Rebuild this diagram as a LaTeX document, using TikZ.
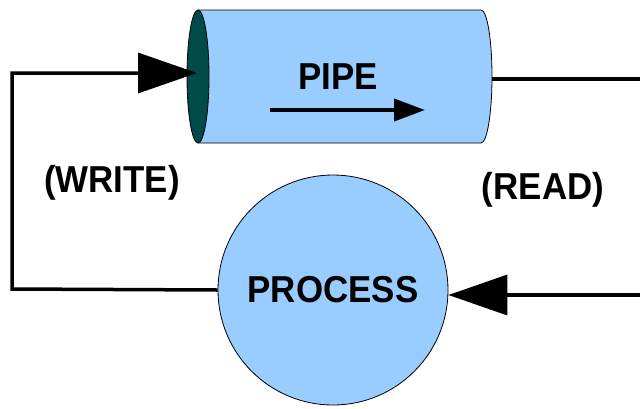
\documentclass[tikz,border=0pt]{standalone}
\usepackage{fontspec}
\setmainfont{Liberation Sans}
\usetikzlibrary{arrows.meta}
\definecolor{pipeblue}{RGB}{153,204,255}
\definecolor{capteal}{RGB}{0,74,74}
% slightly condensed bold lettering
\newcommand\narrowtext[1]{\scalebox{0.93}[1]{#1}}
\begin{document}
\begin{tikzpicture}[x=1pt,y=-1pt,
  caption/.style={font=\fontsize{37.5}{42}\selectfont\bfseries, inner sep=0pt},
  wire/.style={line width=3.5pt},
  bigtip/.style={-{Triangle[length=59pt,width=40pt]}},
  smalltip/.style={-{Triangle[length=31pt,width=22pt]}},
  outline/.style={draw=black, line width=0.8pt}]
\useasboundingbox (0,0) rectangle (640,408);

% pipe body with its open right end
\fill[pipeblue] (198,10) -- (481,10)
  arc[start angle=-90, end angle=90, x radius=11, y radius=66.5]
  -- (198,143) -- cycle;
\draw[outline] (198,10) -- (481,10)
  arc[start angle=-90, end angle=90, x radius=11, y radius=66.5]
  -- (198,143);
% visible left face of the pipe
\filldraw[fill=capteal, outline] (198,76.5) ellipse[x radius=11, y radius=66.5];

% pipe end points
\coordinate (pipein) at (197,73);
\coordinate (pipeout) at (492,79);

% label and flow direction inside the pipe
\node[caption] (pipelabel) at (338,77) {\narrowtext{PIPE}};
\coordinate (flowstart) at (270,110);
\coordinate (flowend) at (425,110);
\draw[line width=4pt, smalltip] (flowstart) -- (flowend);

% process
\node[circle, minimum size=230pt, inner sep=0pt, fill=pipeblue, outline,
      caption] (proc) at (333,290) {\narrowtext{PROCESS}};

% write path: process back into the pipe
\coordinate (wbottom) at (12,289);
\coordinate (wtop) at (12,73);
\draw[wire, bigtip] (proc.west) -- (wbottom) -- (wtop) -- (pipein);
\node[caption] (write) at (112,183) {\narrowtext{(WRITE)}};

% read path: pipe out to the process
\coordinate (rtop) at (645,79);
\coordinate (rbottom) at (645,295);
\draw[wire] (pipeout) -- (rtop);
\draw[wire, bigtip] (rbottom) -- (proc.east |- rbottom);
\node[caption] (read) at (543,190) {\narrowtext{(READ)}};
\end{tikzpicture}
\end{document}
